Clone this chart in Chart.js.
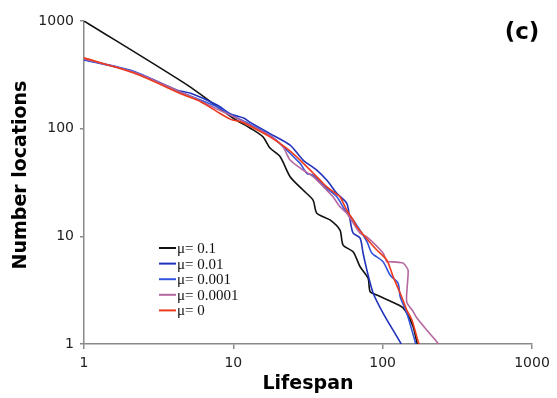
<!DOCTYPE html>
<html>
<head>
<meta charset="utf-8">
<script src="https://cdn.jsdelivr.net/npm/chart.js@4.4.1/dist/chart.umd.min.js"></script>
<style>
  html, body { margin: 0; padding: 0; background: #fff; }
  #wrap { width: 557px; height: 398px; }
</style>
</head>
<body>
<div id="wrap"><canvas id="lifespanChart" width="557" height="398"></canvas></div>
<script>
// axis ticks
const xTicks = [1, 10, 100, 1000];
const yTicks = [1, 10, 100, 1000];

const seriesLabels = ['μ= 0.1', 'μ= 0.01', 'μ= 0.001', 'μ= 0.0001', 'μ= 0'];
const seriesColors = ['#111111', '#2233bb', '#3355dd', '#b5679f', '#ee3a1c'];

// mu = 0.1
const mu1Lifespan = [1, 4.9, 10, 13, 15.8, 17.6, 20.6, 24, 29.3, 34.2, 36.2, 44.4, 51.8, 54.3, 63.4, 70.6, 79.8, 82.4, 91.3, 134, 145, 160, 169, 172];
const mu1Count = [1000, 255, 125, 101, 84, 66, 54.8, 35.8, 26.9, 21.7, 16.4, 14.2, 11.4, 8.3, 7.19, 5.22, 4.1, 3.06, 2.85, 2.22, 1.94, 1.45, 1.05, 0.9];

// mu = 0.01
const mu2Lifespan = [1, 2.16, 4.2, 5.18, 7.78, 9.6, 11.8, 12.9, 17.6, 24, 29.3, 36.2, 42.2, 49.3, 57.5, 60.5, 63.4, 70.6, 73.9, 78.3, 86.3, 100.6, 131, 135];
const mu2Count = [435, 338, 228, 213, 166, 137, 125, 115, 90, 70.4, 51.1, 41.3, 33.3, 25.1, 20.2, 14.2, 10.7, 9.64, 7.0, 4.9, 2.98, 1.94, 1.04, 0.95];

// mu = 0.001
const mu3Lifespan = [1, 2.16, 4.2, 7.78, 9.6, 12.9, 17.6, 28, 31, 34.2, 42.2, 49.3, 56, 63.4, 78.3, 84.6, 100.6, 112, 126.8, 131, 145, 165, 168];
const mu3Count = [440, 340, 225, 160, 135, 110, 87.3, 47.6, 38.5, 37.1, 27.9, 23.3, 17.5, 14.2, 9.0, 7.0, 5.81, 4.37, 3.68, 2.75, 1.94, 1.05, 0.95];

// mu = 0.0001
const mu4Lifespan = [1, 2.16, 4.68, 7.78, 9.6, 12.9, 17.6, 21.5, 24, 29.3, 34.2, 42.2, 46.5, 51.8, 57.5, 70.6, 78.3, 100.6, 106.5, 112, 137, 141, 148, 146, 145, 160, 169, 197, 230, 245];
const mu4Count = [445, 335, 212, 152, 133, 108, 86, 67.9, 51.1, 41.3, 35.8, 26.9, 23.3, 18.8, 16.4, 10.7, 9.9, 7.0, 5.81, 5.81, 5.65, 5.42, 4.86, 3.4, 2.45, 2.0, 1.75, 1.35, 1.05, 0.93];

// mu = 0
const mu5Lifespan = [1, 2.16, 4.68, 6.05, 7.78, 9.6, 11.2, 12.9, 17.6, 22.8, 28, 34.2, 38.1, 42.2, 49.3, 51.8, 57.5, 63.4, 67.1, 76.2, 91.3, 106.5, 117.5, 134, 145, 157, 173, 180];
const mu5Count = [455, 328, 205, 178, 144, 122, 116, 106, 84, 65.6, 51.1, 38.7, 33.3, 28.9, 24.5, 23.3, 17.5, 14.2, 12.3, 9.9, 7.46, 6.03, 4.22, 2.75, 2.07, 1.67, 1.05, 0.9];

const lifespans = [mu1Lifespan, mu2Lifespan, mu3Lifespan, mu4Lifespan, mu5Lifespan];
const counts = [mu1Count, mu2Count, mu3Count, mu4Count, mu5Count];

function toPoints(xs, ys) {
    return xs.map((x, i) => ({ x: x, y: ys[i] }));
}

const datasets = seriesLabels.map((label, i) => ({
    label: label,
    data: toPoints(lifespans[i], counts[i]),
    borderColor: seriesColors[i],
    backgroundColor: seriesColors[i],
    borderWidth: 1.6,
    pointRadius: 0,
    tension: 0.25,
    fill: false,
    order: seriesLabels.length - 1 - i
}));

// legend inside the plot, y title and panel letter
const insideLegend = {
    id: 'insideLegend',
    afterDraw(chart) {
        const ctx = chart.ctx;
        ctx.save();
        ctx.font = '15px "Liberation Serif"';
        ctx.textBaseline = 'middle';
        ctx.textAlign = 'left';
        chart.data.datasets.forEach((ds, i) => {
            const y = 248 + i * 15.6;
            ctx.strokeStyle = ds.borderColor;
            ctx.lineWidth = 2;
            ctx.beginPath();
            ctx.moveTo(159, y);
            ctx.lineTo(176, y);
            ctx.stroke();
            ctx.fillStyle = '#111';
            ctx.fillText(ds.label, 177, y + 1);
        });
        ctx.font = 'bold 23px "DejaVu Sans"';
        ctx.textAlign = 'center';
        ctx.fillStyle = '#000';
        ctx.fillText('(c)', 522, 33);

        // y axis title, sits a little above the plot centre in the original
        ctx.translate(21, 175);
        ctx.rotate(-Math.PI / 2);
        ctx.font = 'bold 19px "DejaVu Sans"';
        ctx.fillText('Number locations', 0, 0);
        ctx.restore();
    }
};

const axisGray = '#8a8a8a';

new Chart(document.getElementById('lifespanChart'), {
    type: 'line',
    data: { datasets },
    options: {
        responsive: false,
        animation: false,
        devicePixelRatio: 1,
        layout: { padding: { top: 21, right: 25, left: 0, bottom: 0 } },
        plugins: {
            legend: { display: false },
            tooltip: { enabled: false }
        },
        scales: {
            x: {
                type: 'logarithmic',
                min: 1,
                max: 1000,
                afterBuildTicks: (s) => { s.ticks = xTicks.map(v => ({ value: v })); },
                afterFit: (s) => { s.height = 54; },
                ticks: {
                    callback: (v) => String(v),
                    font: { family: 'DejaVu Sans', size: 14 },
                    color: '#222',
                    padding: 6,
                    maxRotation: 0,
                    autoSkip: false
                },
                grid: { drawOnChartArea: false, tickLength: 5, color: axisGray, lineWidth: 1.5 },
                border: { color: axisGray, width: 1.5 },
                title: {
                    display: true,
                    text: 'Lifespan',
                    font: { family: 'DejaVu Sans', size: 19, weight: 'bold' },
                    color: '#000',
                    padding: { top: 0, bottom: 3 }
                }
            },
            y: {
                type: 'logarithmic',
                min: 1,
                max: 1000,
                afterBuildTicks: (s) => { s.ticks = yTicks.map(v => ({ value: v })); },
                afterFit: (s) => { s.width = 84; },
                ticks: {
                    callback: (v) => String(v),
                    font: { family: 'DejaVu Sans', size: 14 },
                    color: '#222',
                    padding: 6,
                    autoSkip: false
                },
                grid: { drawOnChartArea: false, tickLength: 4, color: axisGray, lineWidth: 1.5 },
                border: { color: axisGray, width: 1.5 }
            }
        }
    },
    plugins: [insideLegend]
});
</script>
</body>
</html>
